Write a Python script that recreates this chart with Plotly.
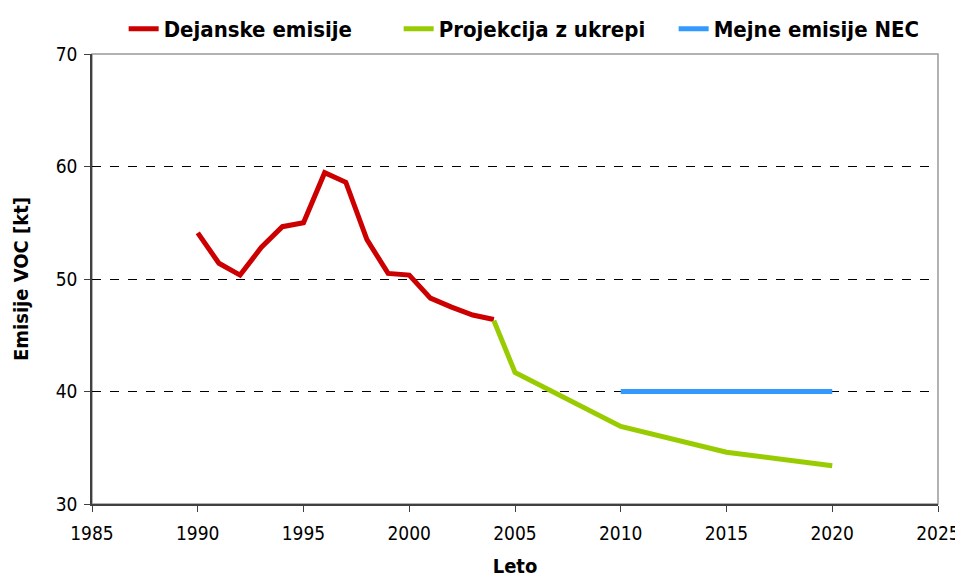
import plotly.graph_objects as go

years_actual = list(range(1990, 2005))
actual = [54.1, 51.4, 50.35, 52.8, 54.65, 55.0, 59.45, 58.6, 53.5, 50.5, 50.35, 48.3, 47.5, 46.8, 46.4]

years_proj = [2004, 2005, 2010, 2015, 2020]
projection = [46.3, 41.7, 36.9, 34.6, 33.4]

years_nec = [2010, 2015, 2020]
nec = [40, 40, 40]

x_ticks = [1985, 1990, 1995, 2000, 2005, 2010, 2015, 2020, 2025]
y_ticks = [30, 40, 50, 60, 70]

bold_family = "DejaVu Sans Condensed, DejaVu Sans"
tick_family = "DejaVu Sans Condensed, DejaVu Sans"

fig = go.Figure()
fig.add_trace(go.Scatter(x=years_actual, y=actual, mode="lines", name="Dejanske emisije",
                         line=dict(color="#CC0000", width=5)))
fig.add_trace(go.Scatter(x=years_proj, y=projection, mode="lines", name="Projekcija z ukrepi",
                         line=dict(color="#99CC00", width=5)))
fig.add_trace(go.Scatter(x=years_nec, y=nec, mode="lines", name="Mejne emisije NEC",
                         line=dict(color="#3399FF", width=5)))

# page has an 8px body margin; compensate so the plot lands at the reference position
fig.update_layout(
    width=963, height=571,
    margin=dict(l=84, r=33, t=46, b=75, autoexpand=False),
    plot_bgcolor="white", paper_bgcolor="white",
    font=dict(family=bold_family, color="black", size=18),
    legend=dict(orientation="h", x=0.525, xanchor="center", y=1.0, yanchor="top",
                yref="container", font=dict(size=22, family=bold_family, weight="bold"),
                entrywidth=230, entrywidthmode="pixels",
                tracegroupgap=0, bgcolor="rgba(0,0,0,0)"),
    showlegend=True,
)

fig.update_xaxes(range=[1985, 2025], tickvals=x_ticks, ticktext=[str(v) for v in x_ticks],
                 showgrid=False, zeroline=False, showline=True, linecolor="#404040", linewidth=1.5,
                 ticks="outside", ticklen=6, tickcolor="#404040", automargin=False,
                 ticklabelstandoff=5,
                 title=dict(text="<b>Leto</b>", font=dict(size=20, family=bold_family), standoff=16),
                 tickfont=dict(size=19, family=tick_family))
fig.update_yaxes(range=[30, 70], tickvals=y_ticks, ticktext=[str(v) for v in y_ticks],
                 showgrid=True, gridcolor="black", griddash="dash", gridwidth=1,
                 zeroline=False, showline=True, linecolor="#404040", linewidth=1.5,
                 ticks="outside", ticklen=6, tickcolor="#404040", automargin=False,
                 ticklabelstandoff=3,
                 title=dict(text="<b>Emisije VOC [kt]</b>", font=dict(size=20, family=bold_family), standoff=22),
                 tickfont=dict(size=19, family=tick_family))

fig.add_shape(type="rect", xref="paper", yref="paper", x0=0, y0=0, x1=1, y1=1,
              line=dict(color="#999999", width=1.5), layer="below")

fig.write_html("out.html")
